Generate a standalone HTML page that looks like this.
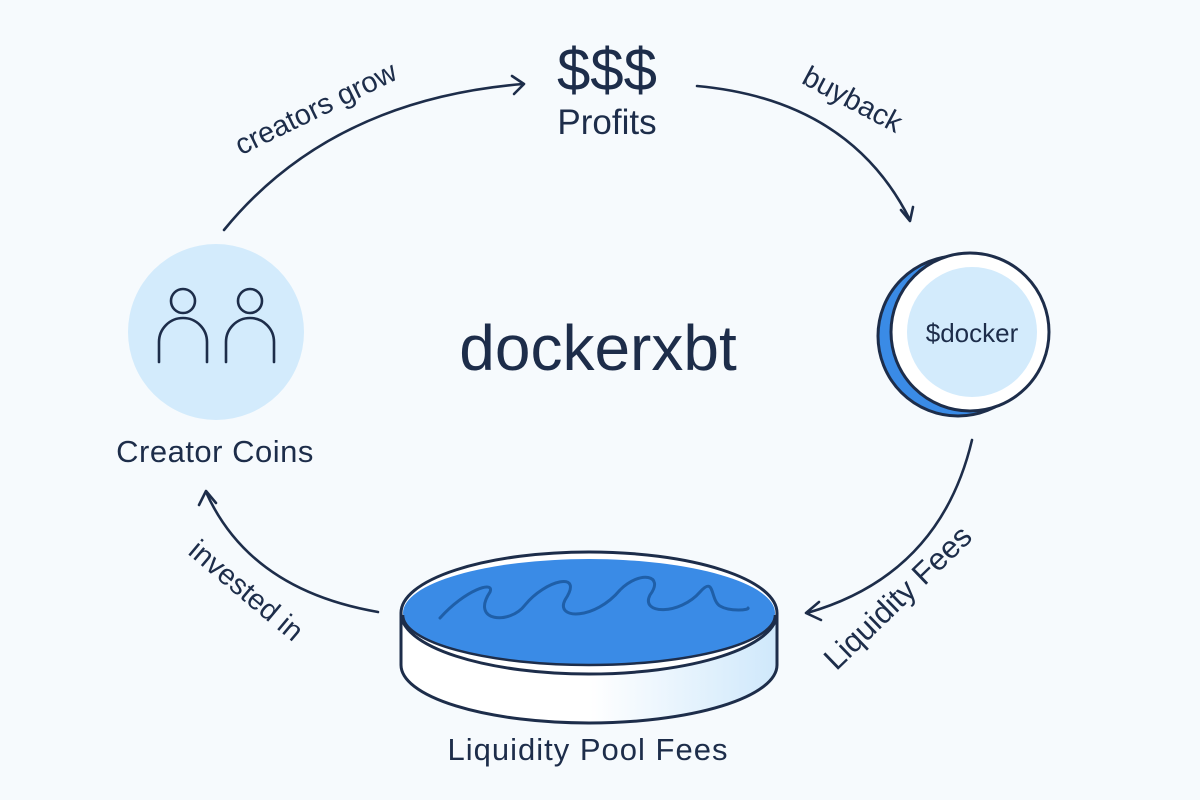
<!DOCTYPE html>
<html><head><meta charset="utf-8"><style>
html,body{margin:0;padding:0;background:#f6fafd;}
svg{display:block}
text{font-family:"Liberation Sans",sans-serif;fill:#1d2d4a}
</style></head><body>
<svg width="1200" height="800" viewBox="0 0 1200 800">
<defs>
<linearGradient id="side" x1="0" x2="1" y1="0" y2="0">
<stop offset="0" stop-color="#fff"/><stop offset="0.5" stop-color="#fff"/><stop offset="1" stop-color="#cfe8fb"/>
</linearGradient>
</defs>
<rect width="1200" height="800" fill="#f6fafd"/>
<g fill="none" stroke="#1d2d4a" stroke-width="2.6" stroke-linecap="round" stroke-linejoin="round">
<path d="M224 230 Q330 100 523 84"/>
<path d="M512 76 L524 84 L514 94"/>
<path d="M697 86 Q850 100 910 220"/>
<path d="M901 210 L910 221 L913 207"/>
<path d="M972 440 Q940 575 807 613"/>
<path d="M819 602 L806 613 L821 620"/>
<path d="M378 612 Q250 590 206 492"/>
<path d="M199 505 L206 491 L216 503"/>
</g>
<circle cx="216" cy="332" r="88" fill="#d3ebfc"/>
<g fill="none" stroke="#1d2d4a" stroke-width="2.6" stroke-linecap="round">
<circle cx="183" cy="301" r="12"/>
<circle cx="250" cy="301" r="12"/>
<path d="M159 362 V342 A24 24 0 0 1 207 342 V362"/>
<path d="M226 362 V342 A24 24 0 0 1 274 342 V362"/>
</g>
<text x="215" y="462" font-size="31" text-anchor="middle" letter-spacing="0.5">Creator Coins</text>
<circle cx="958" cy="336" r="80" fill="#3a8be6" stroke="#1d2d4a" stroke-width="3"/>
<circle cx="970" cy="332" r="79" fill="#fff" stroke="#1d2d4a" stroke-width="3"/>
<circle cx="972" cy="332" r="65" fill="#d3ebfc"/>
<text x="972" y="342" font-size="26" text-anchor="middle">$docker</text>
<path d="M401 613 V665 A188 58 0 0 0 777 665 V613" fill="url(#side)" stroke="#1d2d4a" stroke-width="3"/>
<ellipse cx="589" cy="613" rx="188" ry="61" fill="#fff" stroke="#1d2d4a" stroke-width="3"/>
<path d="M403 613 A186 54 0 0 1 775 613 A186 52 0 0 1 403 613Z" fill="#3a8be6"/>
<path d="M403 615 A186 50 0 0 0 775 615" fill="none" stroke="#1d2d4a" stroke-width="2.5"/>
<path d="M440 618 C465 590 495 580 490 592 C470 622 510 625 525 605 C545 580 585 570 565 600 C555 620 595 620 620 590 C640 570 665 575 650 595 C640 615 680 615 700 592 C715 575 710 600 720 606 C730 612 750 610 748 608" fill="none" stroke="#1f5fa8" stroke-width="3" stroke-linecap="round"/>
<text x="588" y="760" font-size="31" text-anchor="middle" letter-spacing="1">Liquidity Pool Fees</text>
<text x="607" y="90" font-size="60" text-anchor="middle">$$$</text>
<text x="607" y="134" font-size="35" text-anchor="middle">Profits</text>
<text x="598" y="370" font-size="64" text-anchor="middle">dockerxbt</text>
<text transform="translate(320 117) rotate(-26)" font-size="29" text-anchor="middle">creators grow</text>
<text transform="translate(848 108) rotate(28)" font-size="29" text-anchor="middle">buyback</text>
<text transform="translate(905 605) rotate(-44)" font-size="31" text-anchor="middle">Liquidity Fees</text>
<text transform="translate(240 598) rotate(40)" font-size="29" text-anchor="middle">invested in</text>
</svg>
</body></html>
